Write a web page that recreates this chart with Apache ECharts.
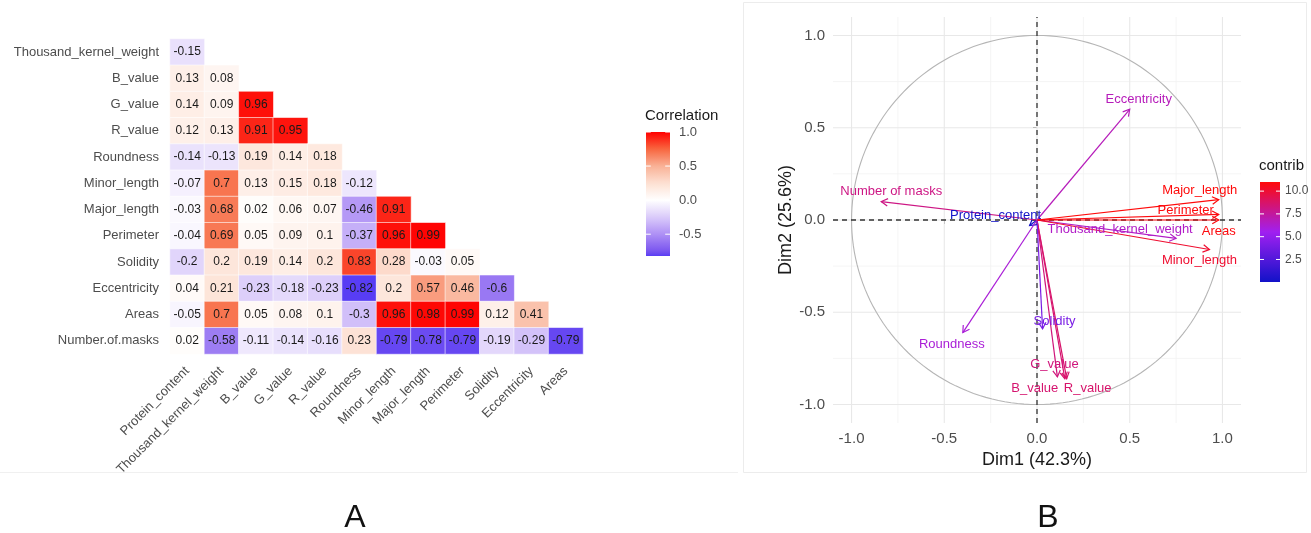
<!DOCTYPE html>
<html>
<head>
<meta charset="utf-8">
<title>Grain traits: correlation and PCA</title>
<script src="https://cdn.jsdelivr.net/npm/echarts@6/dist/echarts.min.js"></script>
<style>
  html, body { margin: 0; padding: 0; background: #ffffff; }
  #chart { width: 1311px; height: 533px; }
</style>
</head>
<body>
<div id="chart"></div>
<script>
// ---- Panel A: correlation matrix, lower triangle ----
const corrCols = ['Protein_content', 'Thousand_kernel_weight', 'B_value', 'G_value', 'R_value',
  'Roundness', 'Minor_length', 'Major_length', 'Perimeter', 'Solidity', 'Eccentricity', 'Areas'];
const corrRows = ['Thousand_kernel_weight', 'B_value', 'G_value', 'R_value', 'Roundness',
  'Minor_length', 'Major_length', 'Perimeter', 'Solidity', 'Eccentricity', 'Areas', 'Number.of.masks'];
const corrValues = [
  [-0.15],
  [0.13, 0.08],
  [0.14, 0.09, 0.96],
  [0.12, 0.13, 0.91, 0.95],
  [-0.14, -0.13, 0.19, 0.14, 0.18],
  [-0.07, 0.7, 0.13, 0.15, 0.18, -0.12],
  [-0.03, 0.68, 0.02, 0.06, 0.07, -0.46, 0.91],
  [-0.04, 0.69, 0.05, 0.09, 0.1, -0.37, 0.96, 0.99],
  [-0.2, 0.2, 0.19, 0.14, 0.2, 0.83, 0.28, -0.03, 0.05],
  [0.04, 0.21, -0.23, -0.18, -0.23, -0.82, 0.2, 0.57, 0.46, -0.6],
  [-0.05, 0.7, 0.05, 0.08, 0.1, -0.3, 0.96, 0.98, 0.99, 0.12, 0.41],
  [0.02, -0.58, -0.11, -0.14, -0.16, 0.23, -0.79, -0.78, -0.79, -0.19, -0.29, -0.79]
];
const corrLegendTicks = [1.0, 0.5, 0.0, -0.5];
const corrLegendMax = 1.0;

// ---- Panel B: PCA variables on Dim1 / Dim2 ----
const pcaVars = ['Protein_content', 'Thousand_kernel_weight', 'B_value', 'G_value', 'R_value',
  'Roundness', 'Minor_length', 'Major_length', 'Perimeter', 'Solidity', 'Eccentricity', 'Areas', 'Number of masks'];
const dim1 = [-0.04, 0.75, 0.15, 0.11, 0.16, -0.40, 0.93, 0.98, 0.98, 0.03, 0.50, 0.98, -0.84];
const dim2 = [-0.03, -0.10, -0.86, -0.85, -0.86, -0.61, -0.16, 0.11, 0.03, -0.59, 0.60, 0.00, 0.10];
const contrib = [0.03, 6.5, 8.6, 8.3, 8.7, 6.1, 10.1, 11.0, 10.9, 4.0, 6.8, 10.9, 8.1];
const pcaMajorTicks = [-1, -0.5, 0, 0.5, 1];
const pcaMinorTicks = [-0.75, -0.25, 0.25, 0.75];
const contribTicks = [10.0, 7.5, 5.0, 2.5];

// ---- styling ----
const FONT = '"Liberation Sans", Arial, Helvetica, sans-serif';
const corrColors = ['#0000ff', '#7a55f0', '#ae90f5', '#dacbfa', '#ffffff', '#fde0d2', '#f9b196', '#f8663f', '#ff0000'];
const contribColors = ['#1212c8', '#a020f0', '#ff0a0a'];
const heatGrid = { left: 170, top: 39, width: 413, height: 315 };
const pcaGrid = { left: 833, top: 17, width: 408, height: 406 };
const pcaExtent = [-1.1, 1.1];
const corrBar = { x: 646, y: 132, w: 24, h: 124, gap: 9, size: 13 };
const contribBar = { x: 1260, y: 182, w: 20, h: 100, gap: 5, size: 12 };
// pixel nudges of each variable label relative to its arrow tip
const labelNudge = {
  'Protein_content': [-34, -10], 'Thousand_kernel_weight': [-56, -9], 'B_value': [-30, 10],
  'G_value': [-3, -12], 'R_value': [21, 10], 'Roundness': [-11, 12], 'Minor_length': [-10, 11],
  'Major_length': [-19, -9], 'Perimeter': [-33, -4], 'Solidity': [12, -7], 'Eccentricity': [9, -10],
  'Areas': [0, 11], 'Number of masks': [10, -10]
};

// ---- helpers ----
function hexToRgb(h) {
  const n = parseInt(h.slice(1), 16);
  return [(n >> 16) & 255, (n >> 8) & 255, n & 255];
}
function rampColor(colors, lo, hi, v) {
  const t = Math.max(0, Math.min(1, (v - lo) / (hi - lo))) * (colors.length - 1);
  const i = Math.min(Math.floor(t), colors.length - 2);
  const f = t - i;
  const a = hexToRgb(colors[i]), b = hexToRgb(colors[i + 1]);
  return 'rgb(' + a.map((c, k) => Math.round(c + (b[k] - c) * f)).join(',') + ')';
}
function barStops(colors, lo, hi, from, to, n) {
  const stops = [];
  for (let k = 0; k <= n; k++) {
    const v = to - (to - from) * k / n;
    stops.push({ offset: k / n, color: rampColor(colors, lo, hi, v) });
  }
  return stops;
}

// heatmap cells [col, row, value]
const heatData = [];
corrValues.forEach((row, r) => row.forEach((v, c) => heatData.push([c, r, v])));
const corrMin = Math.min(...heatData.map(d => d[2]));

const pcaData = pcaVars.map((name, i) => [dim1[i], dim2[i], contrib[i], i]);
const contribMin = Math.min(...contrib);
const contribMax = Math.max(...contrib);

// ---- legends, panel frames and panel letters ----
function colourbar(bar, colors, lo, hi, from, to, ticks, fmt, title, titleSize) {
  const els = [];
  els.push({
    type: 'rect', shape: { x: bar.x, y: bar.y, width: bar.w, height: bar.h },
    style: { fill: { type: 'linear', x: 0, y: 0, x2: 0, y2: 1, colorStops: barStops(colors, lo, hi, from, to, 40) } }
  });
  ticks.forEach(v => {
    const y = bar.y + bar.h - (v - from) / (to - from) * bar.h;
    els.push({ type: 'line', shape: { x1: bar.x, y1: y, x2: bar.x + bar.w / 5, y2: y }, style: { stroke: '#ffffff', lineWidth: 1 } });
    els.push({ type: 'line', shape: { x1: bar.x + bar.w * 4 / 5, y1: y, x2: bar.x + bar.w, y2: y }, style: { stroke: '#ffffff', lineWidth: 1 } });
    els.push({ type: 'text', x: bar.x + bar.w + bar.gap, y: y,
      style: { text: fmt(v), fill: '#4d4d4d', font: bar.size + 'px ' + FONT, align: 'left', verticalAlign: 'middle' } });
  });
  els.push({ type: 'text', x: bar.x - 1, y: bar.y - 16,
    style: { text: title, fill: '#1a1a1a', font: titleSize + 'px ' + FONT, align: 'left', verticalAlign: 'middle' } });
  return els;
}

const graphics = [
  { type: 'line', shape: { x1: 0, y1: 472.5, x2: 738, y2: 472.5 }, style: { stroke: '#f0f0f0', lineWidth: 1 }, z: -10 },
  { type: 'rect', shape: { x: 743.5, y: 2.5, width: 563, height: 470 }, style: { fill: 'none', stroke: '#ececec', lineWidth: 1 }, z: -10 },
  { type: 'text', x: 355, y: 518, style: { text: 'A', fill: '#111111', font: '32px ' + FONT, align: 'center', verticalAlign: 'middle' } },
  { type: 'text', x: 1048, y: 518, style: { text: 'B', fill: '#111111', font: '32px ' + FONT, align: 'center', verticalAlign: 'middle' } }
]
  .concat(colourbar(corrBar, corrColors, -1, 1, corrMin, corrLegendMax, corrLegendTicks, v => v.toFixed(1), 'Correlation', 15))
  .concat(colourbar(contribBar, contribColors, contribMin, contribMax, contribMin, contribMax, contribTicks, v => v.toFixed(1), 'contrib', 15));

// ---- chart ----
const chart = echarts.init(document.getElementById('chart'), null, { renderer: 'canvas' });

const option = {
  animation: false,
  backgroundColor: '#ffffff',
  textStyle: { fontFamily: FONT },
  grid: [
    Object.assign({ containLabel: false, outerBoundsMode: 'none' }, heatGrid),
    Object.assign({ containLabel: false, outerBoundsMode: 'none' }, pcaGrid)
  ],
  xAxis: [
    {
      gridIndex: 0, type: 'category', data: corrCols,
      axisLine: { show: false }, axisTick: { show: false }, splitLine: { show: false },
      axisLabel: { interval: 0, rotate: 45, fontSize: 13, color: '#4d4d4d', margin: 15, fontFamily: FONT }
    },
    {
      gridIndex: 1, type: 'value', min: pcaExtent[0], max: pcaExtent[1],
      axisLine: { show: false }, splitLine: { show: false },
      axisTick: { show: true, customValues: pcaMajorTicks, length: 4, lineStyle: { color: '#333333', width: 1 } },
      axisLabel: { customValues: pcaMajorTicks, formatter: v => Number(v).toFixed(1), fontSize: 15, color: '#4d4d4d', margin: 8, fontFamily: FONT },
      name: 'Dim1 (42.3%)', nameLocation: 'middle', nameGap: 27,
      nameTextStyle: { fontSize: 18, color: '#1a1a1a', fontFamily: FONT }
    }
  ],
  yAxis: [
    {
      gridIndex: 0, type: 'category', data: corrRows, inverse: true,
      axisLine: { show: false }, axisTick: { show: false }, splitLine: { show: false },
      axisLabel: { interval: 0, fontSize: 13, color: '#4d4d4d', margin: 11, fontFamily: FONT }
    },
    {
      gridIndex: 1, type: 'value', min: pcaExtent[0], max: pcaExtent[1],
      axisLine: { show: false }, splitLine: { show: false },
      axisTick: { show: true, customValues: pcaMajorTicks, length: 4, lineStyle: { color: '#333333', width: 1 } },
      axisLabel: { customValues: pcaMajorTicks, formatter: v => Number(v).toFixed(1), fontSize: 15, color: '#4d4d4d', margin: 8, fontFamily: FONT },
      name: 'Dim2 (25.6%)', nameLocation: 'middle', nameGap: 36, nameRotate: 90,
      nameTextStyle: { fontSize: 18, color: '#1a1a1a', fontFamily: FONT }
    }
  ],
  visualMap: [
    { type: 'continuous', show: false, seriesIndex: 0, dimension: 2, min: -1, max: 1, inRange: { color: corrColors } },
    { type: 'continuous', show: false, seriesIndex: [3, 4], dimension: 2, min: contribMin, max: contribMax, inRange: { color: contribColors } }
  ],
  series: [
    {
      // correlation tiles
      type: 'heatmap', xAxisIndex: 0, yAxisIndex: 0, data: heatData,
      itemStyle: { borderColor: 'rgba(255,255,255,0.7)', borderWidth: 0.8 },
      label: { show: true, formatter: p => String(p.value[2]), fontSize: 12, color: '#1a1a1a', fontFamily: FONT },
      emphasis: { disabled: true }, silent: true
    },
    {
      // panel grid lines
      type: 'custom', coordinateSystem: 'cartesian2d', xAxisIndex: 1, yAxisIndex: 1,
      data: [[0, 0]], silent: true, z: 1, clip: false,
      renderItem: function (params, api) {
        const children = [];
        const addLines = (vals, stroke, width) => vals.forEach(v => {
          const a = api.coord([v, pcaExtent[0]]), b = api.coord([v, pcaExtent[1]]);
          children.push({ type: 'line', shape: { x1: a[0], y1: a[1], x2: b[0], y2: b[1] }, style: { stroke: stroke, lineWidth: width } });
          const c = api.coord([pcaExtent[0], v]), d = api.coord([pcaExtent[1], v]);
          children.push({ type: 'line', shape: { x1: c[0], y1: c[1], x2: d[0], y2: d[1] }, style: { stroke: stroke, lineWidth: width } });
        });
        addLines(pcaMinorTicks, '#f2f2f2', 0.8);
        addLines(pcaMajorTicks, '#e8e8e8', 1.1);
        return { type: 'group', children: children };
      }
    },
    {
      // correlation circle and dashed reference axes
      type: 'custom', coordinateSystem: 'cartesian2d', xAxisIndex: 1, yAxisIndex: 1,
      data: [[0, 0]], silent: true, z: 2, clip: false,
      renderItem: function (params, api) {
        const pts = [];
        for (let k = 0; k <= 360; k += 2) {
          const r = k * Math.PI / 180;
          pts.push(api.coord([Math.cos(r), Math.sin(r)]));
        }
        const h0 = api.coord([pcaExtent[0], 0]), h1 = api.coord([pcaExtent[1], 0]);
        const v0 = api.coord([0, pcaExtent[0]]), v1 = api.coord([0, pcaExtent[1]]);
        return {
          type: 'group', children: [
            { type: 'polyline', shape: { points: pts }, style: { fill: 'none', stroke: '#b5b5b5', lineWidth: 1.1 } },
            { type: 'line', shape: { x1: h0[0], y1: h0[1], x2: h1[0], y2: h1[1] }, style: { stroke: '#333333', lineWidth: 1.3, lineDash: [5, 4] } },
            { type: 'line', shape: { x1: v0[0], y1: v0[1], x2: v1[0], y2: v1[1] }, style: { stroke: '#333333', lineWidth: 1.3, lineDash: [5, 4] } }
          ]
        };
      }
    },
    {
      // variable arrows coloured by contribution
      type: 'custom', coordinateSystem: 'cartesian2d', xAxisIndex: 1, yAxisIndex: 1,
      data: pcaData, silent: true, z: 3, clip: false,
      renderItem: function (params, api) {
        const o = api.coord([0, 0]);
        const t = api.coord([api.value(0), api.value(1)]);
        const color = api.visual('color');
        const ang = Math.atan2(t[1] - o[1], t[0] - o[0]);
        const len = 7.5, spread = Math.PI / 6;
        const p1 = [t[0] - len * Math.cos(ang - spread), t[1] - len * Math.sin(ang - spread)];
        const p2 = [t[0] - len * Math.cos(ang + spread), t[1] - len * Math.sin(ang + spread)];
        return {
          type: 'group', children: [
            { type: 'line', shape: { x1: o[0], y1: o[1], x2: t[0], y2: t[1] }, style: { stroke: color, lineWidth: 1.2 } },
            { type: 'polyline', shape: { points: [p1, t, p2] }, style: { fill: 'none', stroke: color, lineWidth: 1.2 } }
          ]
        };
      }
    },
    {
      // variable names
      type: 'custom', coordinateSystem: 'cartesian2d', xAxisIndex: 1, yAxisIndex: 1,
      data: pcaData, silent: true, z: 4, clip: false,
      renderItem: function (params, api) {
        const t = api.coord([api.value(0), api.value(1)]);
        const name = pcaVars[api.value(3)];
        const nudge = labelNudge[name] || [0, 0];
        return {
          type: 'text', x: t[0] + nudge[0], y: t[1] + nudge[1],
          style: { text: name, fill: api.visual('color'), font: '13px ' + FONT, align: 'center', verticalAlign: 'middle' }
        };
      }
    }
  ],
  graphic: { elements: graphics }
};

chart.setOption(option);
</script>
</body>
</html>
